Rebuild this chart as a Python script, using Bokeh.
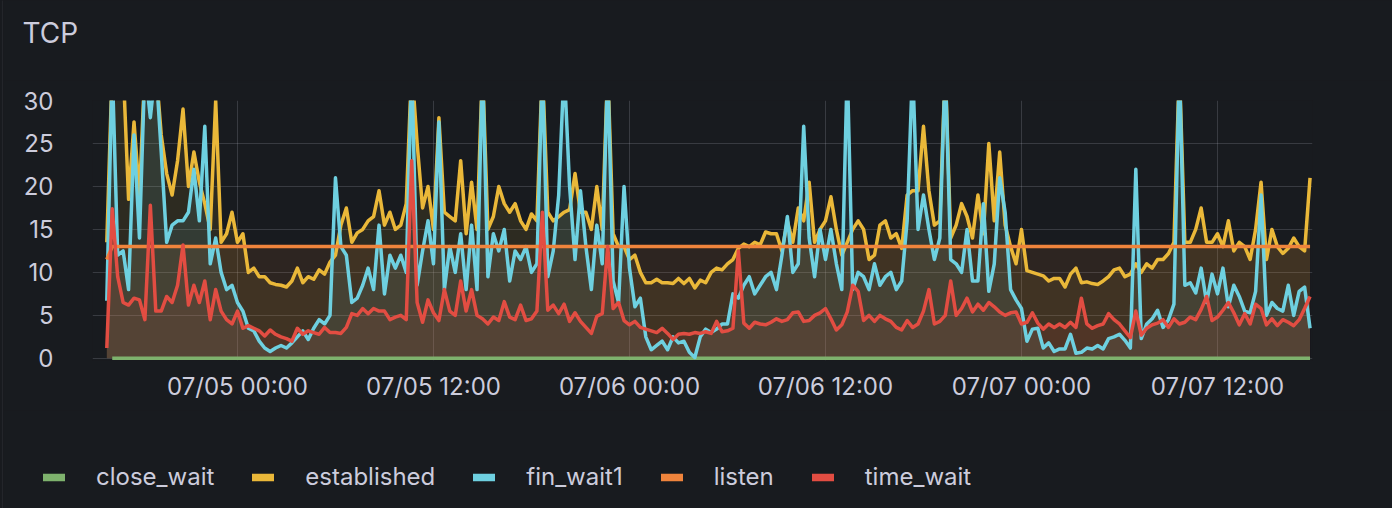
import pandas as pd
from bokeh.plotting import figure
from bokeh.layouts import column, row
from bokeh.models import (Range1d, FixedTicker, DatetimeTickFormatter, Legend,
                          LegendItem, Label)
from bokeh.embed import file_html
from bokeh.resources import INLINE

# ---------------- data (20-minute samples) -------------
start_time = "2024-07-04 16:00"
sample_step = "20min"

established = [
    13.5, 34, 34, 34, 18.5, 27.5, 19, 34, 34, 34, 26, 21.5, 19, 23, 29, 20, 24, 20.5, 18, 15, 30, 13.5, 14.5, 17, 13.5, 14.5, 10, 10.5, 9.5, 9.5, 8.8,
    8.6, 8.5, 8.3, 9, 10.5, 8.8, 9.5, 9.2, 10.3, 9.8, 11.2, 12, 15.5, 17.5, 13.5, 14.6, 15, 16, 16.5, 19.5, 15.5, 17, 15, 15.5, 18, 34, 25, 17.5, 20, 15, 28,
    17, 16.5, 16, 23, 14.5, 20.5, 15, 34, 15, 16.5, 20, 18, 17, 18, 16, 15, 16.8, 16, 34, 17, 16, 16.5, 17, 17.3, 21.5, 17, 17, 15, 20, 15, 34,
    14.5, 13, 13, 11.5, 12, 10, 8.8, 8.8, 9.2, 8.8, 8.8, 8.7, 9.3, 8.7, 9.3, 8.2, 9.1, 8.8, 10, 10.5, 10.3, 11, 11.5, 12.8, 13.3, 13, 13.5, 13.2, 14.7, 14.5, 14.5,
    12.5, 16, 13.5, 17.5, 16, 20.5, 13.5, 15, 16, 18.8, 15, 12, 13.5, 15, 16, 15, 11.5, 12, 15.5, 16, 14, 14.5, 12.8, 19, 19.5, 19.5, 27, 19.5, 15.5, 16, 34,
    14, 15.5, 18, 16.5, 14, 19, 14.5, 25, 16, 24, 15.5, 13, 11, 15, 10.2, 10, 9.8, 9.6, 9, 9.3, 9.3, 8.3, 9.8, 10.5, 8.8, 8.9, 8.7, 8.6, 9, 9.5, 10.3,
    10.5, 9.5, 9.8, 11, 10, 11, 10.5, 11.5, 11.5, 12.2, 13.5, 34, 13.5, 13.5, 15, 17.5, 13.5, 13.5, 14.5, 13, 16, 12.5, 13.5, 13, 11.5, 15, 20.5, 11.5, 15, 13, 12.2, 12.8, 14, 13, 12.5, 21,
]

fin_wait1 = [
    6.7, 34, 12, 12.5, 8, 26, 14, 34, 28, 34, 24, 13.5, 15.5, 16, 16, 17, 22, 16, 27, 11, 14, 10, 8, 8.5, 6.5, 5.5, 3.5, 3.2, 2, 1.2, 0.8,
    1.2, 1.5, 1.2, 1.8, 2.5, 3.2, 2.2, 3.5, 4.5, 4, 5, 21, 13, 12, 6.5, 7, 8.5, 10.5, 8, 15.5, 7.5, 12, 10.5, 12, 10, 34, 8.5, 12.5, 16, 11, 27.5,
    8, 13, 10, 14.5, 8, 15.5, 8, 34, 9.5, 14.5, 12.5, 15, 9, 12.5, 11.5, 13, 10, 11, 34, 9.5, 12.5, 19, 34, 20, 11.5, 19.5, 13, 8, 15.5, 11, 34,
    9, 6.5, 20, 10.5, 6, 7, 2.5, 1, 1.5, 2, 1, 2.5, 1.8, 2, 0.7, 0.1, 2.5, 3.4, 3, 3.4, 4, 4, 7.5, 7, 8.5, 9.5, 7.5, 8.5, 9.5, 10, 8,
    12, 16.5, 10, 11, 27, 14, 9.5, 15, 11.5, 15, 11, 8, 34, 8, 10, 9.5, 8, 11, 8.5, 9.5, 10, 8, 9, 16, 34, 15, 19, 15, 11.5, 14, 34,
    11.5, 11, 10, 15, 9, 9, 18, 7.8, 11, 21, 17, 8, 6.8, 5.8, 2, 3.4, 3.5, 1.2, 1.8, 0.8, 1.1, 1.1, 2.8, 0.6, 0.7, 1.2, 1.1, 1.5, 1.1, 2.3, 2.5,
    2.8, 2.1, 1.2, 22, 2.3, 4, 4.6, 5.6, 3.6, 4.5, 6.3, 34, 8.5, 8.8, 7.6, 10.5, 6.5, 9.8, 7.5, 10.5, 6, 8.5, 7.2, 5.5, 5.3, 7.8, 19, 5, 6.5, 5.8, 5.5, 8.5, 5, 7.8, 8.3, 3.5,
]

time_wait = [
    1.2, 17.4, 9.5, 6.5, 6.2, 7, 6.8, 4.5, 17.8, 5.5, 5.5, 7.2, 6.5, 8.5, 13.2, 6.2, 8.5, 6.5, 9, 4.5, 8, 5.5, 4.5, 4, 5.5, 3.5, 3.8, 3.5, 3.2, 2.6, 3.3,
    2.8, 2.5, 2.3, 2, 3.5, 2.8, 3.2, 3, 2.8, 3.6, 3, 3, 2.9, 3.6, 5.2, 5, 5.8, 5.2, 5.8, 5.5, 5.5, 4.5, 4.8, 5, 4.5, 23, 6.5, 4.2, 6.8, 5.3, 4.4,
    8, 5.5, 5, 9, 5.5, 8, 5, 4.6, 4, 4.8, 4.4, 6.6, 4.8, 4.5, 6.2, 4.4, 4.6, 5.5, 17, 5.6, 6.2, 5.2, 6.3, 4.3, 5.3, 4.3, 3.6, 2.9, 4.9, 5.2, 13,
    5.8, 6.5, 4.4, 3.9, 4.3, 3.6, 3.4, 3.2, 3, 3.5, 2.9, 2.2, 2.8, 2.9, 2.8, 3, 2.9, 3.1, 2.9, 4.3, 3.1, 3.2, 3.5, 12.5, 4.1, 3.5, 4.2, 4, 3.9, 4.2, 4.6,
    4.3, 4.5, 5.3, 5.4, 4.3, 4.4, 5, 5.3, 5.8, 4.6, 3.3, 3.9, 5.4, 8.5, 7.8, 4.4, 5, 4.3, 5, 4.6, 4.3, 3.6, 3.3, 4.4, 3.6, 4, 5.5, 8, 4, 4.3, 5,
    9, 5, 5.8, 7, 5.4, 6.3, 5.6, 6.5, 6, 5.4, 5, 5.3, 5.4, 4, 4.2, 5.3, 4.1, 3.4, 4, 3.6, 4, 3.6, 4.2, 3.6, 7, 4, 3.5, 3.8, 4, 5.2, 4.5,
    4, 3.2, 2.4, 5.5, 2.7, 3.5, 3.9, 4.1, 4.5, 3.6, 4.6, 4, 4.2, 4.8, 4.5, 5.7, 7.2, 4.4, 4.8, 5.6, 6.5, 5.3, 3.9, 5.2, 4, 6.3, 5.8, 3.9, 4.6, 3.8, 4.5, 4.2, 3.8, 4.5, 5.8, 7.2,
]

listen_times = ["2024-07-04 16:00", "2024-07-04 16:20", "2024-07-07 17:40"]
listen = [11.5, 13, 13]

close_wait_times = ["2024-07-04 16:20", "2024-07-07 17:40"]
close_wait = [0, 0]

x_tick_times = ["2024-07-05 00:00", "2024-07-05 12:00", "2024-07-06 00:00",
                "2024-07-06 12:00", "2024-07-07 00:00", "2024-07-07 12:00"]
y_ticks = [0, 5, 10, 15, 20, 25, 30]

series_names = ["close_wait", "established", "fin_wait1", "listen", "time_wait"]
series_colors = ["#7EB26D", "#EAB839", "#6ED0E0", "#EF843C", "#E24D42"]
title_text = "TCP"

assert len(established) == len(fin_wait1) == len(time_wait) == 222, (
    len(established), len(fin_wait1), len(time_wait))

# ---------------- styling constants -------------------------------------------
BG = "#181b1f"
PANEL_EDGE = "#2e3036"
TXT = "#ccccdc"
FONT = "Inter"
EDGE_W = 3                     # strip holding the panel's left border
W = 1392 - EDGE_W
TOTAL_H = 508
HEADER_H, MAIN_H, FOOTER_H = 80, 330, 98
HOST_STYLE = {"background-color": BG}


def blank_figure(width, height):
    f = figure(width=width, height=height, output_backend="svg", toolbar_location=None,
               x_range=Range1d(0, width), y_range=Range1d(height, 0),
               x_axis_location=None, y_axis_location=None,
               min_border_left=0, min_border_right=0, min_border_top=0, min_border_bottom=0)
    f.background_fill_color = BG
    f.border_fill_color = BG
    f.outline_line_color = None
    f.xgrid.visible = False
    f.ygrid.visible = False
    f.frame_align = False
    f.styles = HOST_STYLE
    return f


# ---------------- panel left edge (1px border line) ---------------------------
edge = blank_figure(EDGE_W, TOTAL_H)
edge.min_border_left = 2
edge.background_fill_color = PANEL_EDGE   # the 1px-wide frame is the border

# ---------------- header (title) ---------------------------------------------
header = blank_figure(W, HEADER_H)
header.add_layout(Label(x=22 - EDGE_W, y=32, text=title_text, text_font=FONT,
                        text_font_size="28px", text_color=TXT,
                        text_baseline="middle", text_align="left"))

# ---------------- main chart --------------------------------------------------
times = pd.date_range(start_time, periods=len(established), freq=sample_step)
lt = pd.to_datetime(listen_times)
ct = pd.to_datetime(close_wait_times)

p = figure(width=W, height=MAIN_H, output_backend="svg", toolbar_location=None,
           x_axis_type="datetime",
           x_range=Range1d(pd.Timestamp("2024-07-04 15:07:30"), pd.Timestamp("2024-07-07 17:49:00")),
           y_range=Range1d(-0.25, 30),
           min_border_left=92 - EDGE_W, min_border_right=80, min_border_top=20, min_border_bottom=50)
p.background_fill_color = BG
p.border_fill_color = BG
p.outline_line_color = None
p.frame_align = False
p.styles = HOST_STYLE

for ax in (p.xaxis[0], p.yaxis[0]):
    ax.axis_line_color = None
    ax.major_tick_line_color = None
    ax.minor_tick_line_color = None
    ax.major_tick_out = 0
    ax.major_tick_in = 0
    ax.minor_tick_out = 0
    ax.minor_tick_in = 0
    ax.major_label_text_color = TXT
    ax.major_label_text_font = FONT

p.yaxis.ticker = FixedTicker(ticks=y_ticks)
p.yaxis.major_label_text_font_size = "24px"
p.yaxis.major_label_standoff = 39

x_ticks_ms = [pd.Timestamp(t).value // 10**6 for t in x_tick_times]
p.xaxis.ticker = FixedTicker(ticks=x_ticks_ms)
fmt = "%m/%d %H:%M"
p.xaxis.formatter = DatetimeTickFormatter(
    milliseconds=fmt, seconds=fmt, minsec=fmt, minutes=fmt, hourmin=fmt,
    hours=fmt, days=fmt, months=fmt, years=fmt)
p.xaxis.major_label_text_font_size = "24px"
p.xaxis.major_label_standoff = 11

p.xgrid.ticker = FixedTicker(ticks=x_ticks_ms)
p.ygrid.ticker = FixedTicker(ticks=y_ticks)
for g in (p.xgrid[0], p.ygrid[0]):
    g.grid_line_color = TXT
    g.grid_line_alpha = 0.18
    g.grid_line_width = 1

xs = {"established": times, "fin_wait1": times, "listen": lt, "time_wait": times}
ys = {"established": established, "fin_wait1": fin_wait1, "listen": listen, "time_wait": time_wait}
cmap = dict(zip(series_names, series_colors))
for name in ["established", "fin_wait1", "listen", "time_wait"]:
    p.varea(x=xs[name], y1=0, y2=ys[name], fill_color=cmap[name], fill_alpha=0.1)

p.line(ct, close_wait, line_color=cmap["close_wait"], line_width=3.5)
for name in ["established", "fin_wait1", "listen", "time_wait"]:
    p.line(xs[name], ys[name], line_color=cmap[name], line_width=3.5, line_join="round")

# ---------------- footer (legend) --------------------------------------------
footer = blank_figure(W, FOOTER_H)
nan = float("nan")
items = []
for name, col in zip(series_names, series_colors):
    # legend swatch only: a NaN point draws nothing in the plot area
    r = footer.line(x=[nan], y=[nan], line_color=col, line_width=7.5, line_cap="round")
    items.append(LegendItem(label=name, renderers=[r]))

legend = Legend(items=items, orientation="horizontal", location=(43 - EDGE_W, 17),
                glyph_width=22, glyph_height=20, label_standoff=31, spacing=38,
                padding=0, margin=0, border_line_color=None, background_fill_alpha=0,
                label_text_font=FONT, label_text_font_size="24px",
                label_text_color=TXT, label_height=20)
footer.add_layout(legend, "center")

stack = column(header, p, footer, spacing=0)
stack.styles = HOST_STYLE
layout = row(edge, stack, spacing=0)
layout.styles = HOST_STYLE
open("out.html", "w").write(file_html(layout, INLINE))
